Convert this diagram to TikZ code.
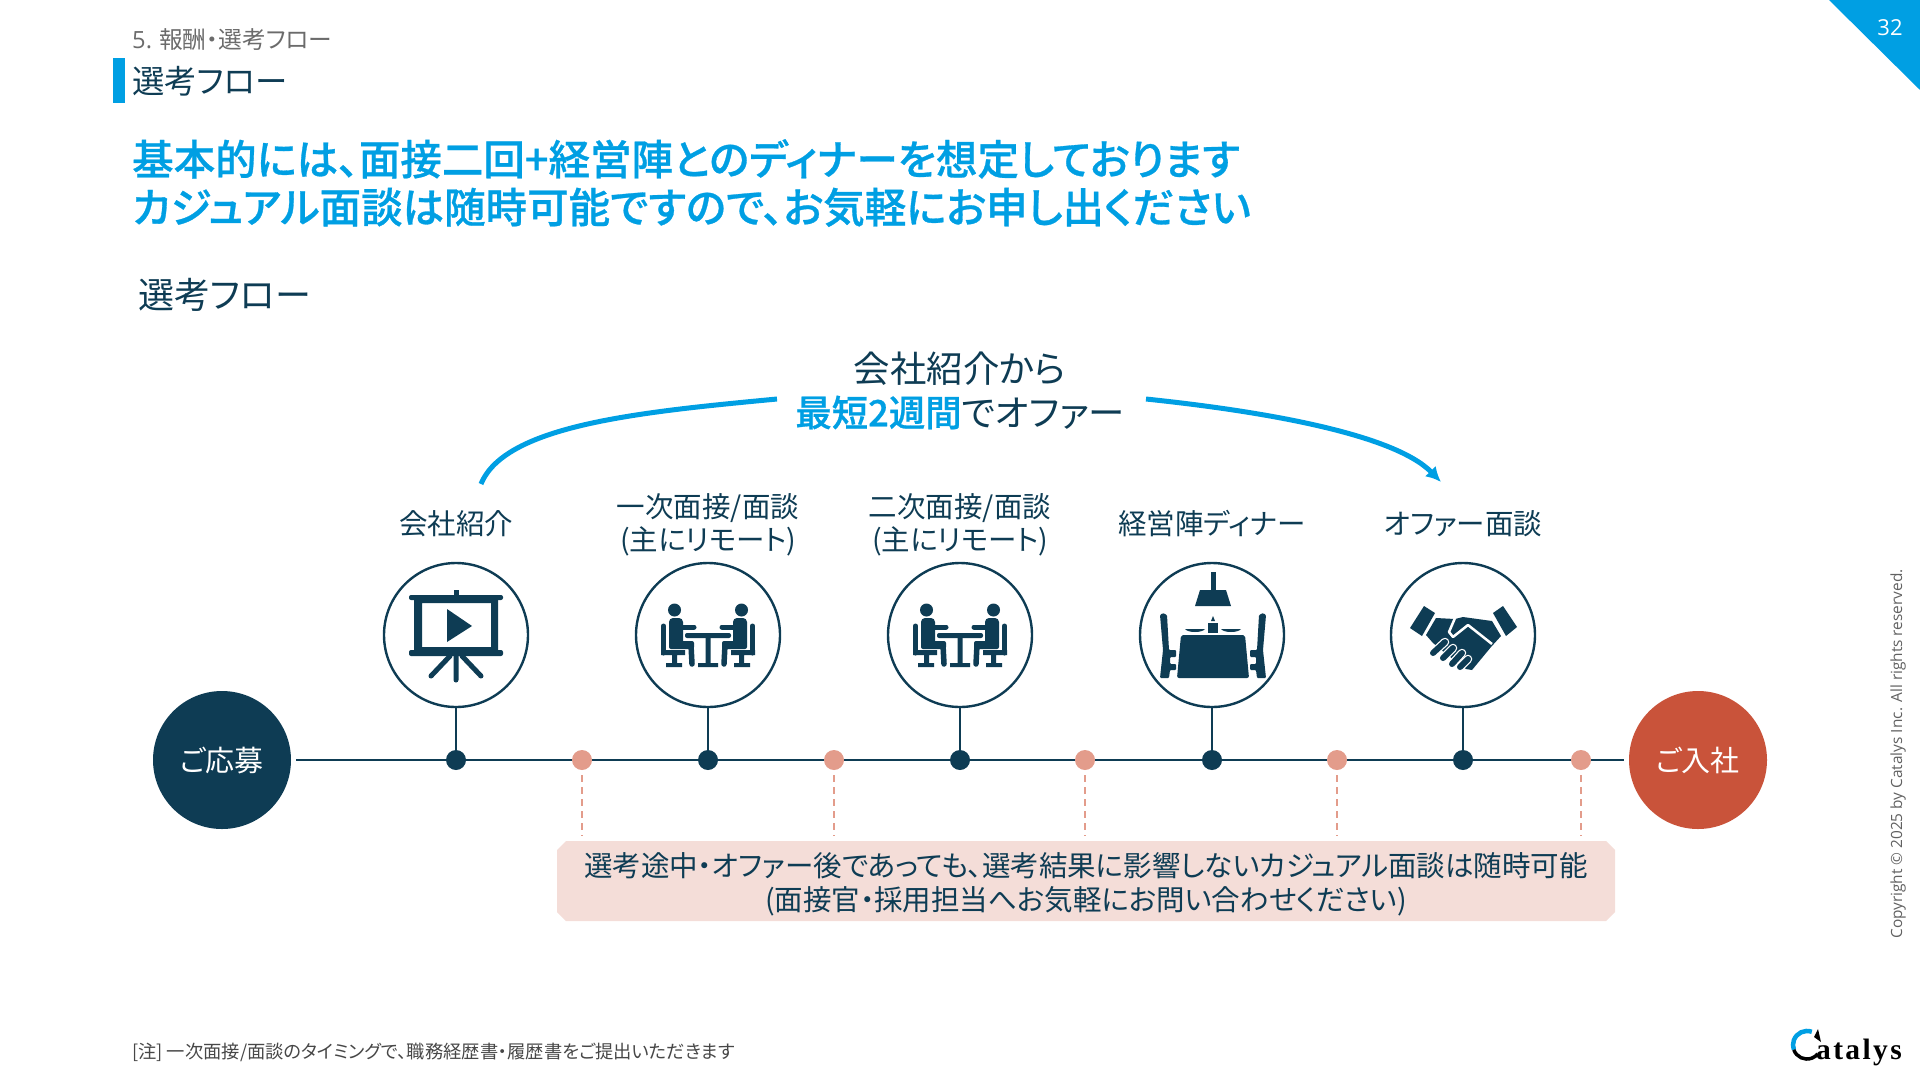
\documentclass[tikz,border=0pt]{standalone}
\usepackage{fontspec}
\setmainfont{Noto Sans CJK JP}[RawFeature=+palt]
\newfontfamily\headfont{Noto Sans CJK JP Medium}[RawFeature=+palt, FakeBold=0.7]
\newfontfamily\latinfont{Open Sans}
\newfontfamily\logofont{Liberation Serif}[LetterSpace=8]
\usetikzlibrary{arrows.meta, positioning, shapes.misc, calc}
\definecolor{navy}{HTML}{0E3C54}
\definecolor{skyblue}{HTML}{009FE3}
\definecolor{brick}{HTML}{C9533A}
\definecolor{salmon}{HTML}{E39C8B}
\definecolor{blush}{HTML}{F4DDD8}
\newcommand{\fs}[2]{\fontsize{#1}{#2}\selectfont}
\tikzset{
    stage/.style={draw=navy, line width=2.4pt, fill=white, circle, minimum size=144pt, inner sep=0pt},
    terminal/.style={circle, minimum size=138pt, inner sep=0pt, outer sep=5pt, text=white, font=\fs{29}{32}},
    navydot/.style={circle, fill=navy, minimum size=20pt, inner sep=0pt},
    salmondot/.style={circle, fill=salmon, minimum size=20pt, inner sep=0pt, outer sep=5pt},
    label/.style={text=navy, align=center, font=\fs{28.5}{33}},
    flowline/.style={navy, line width=2.8pt},
    casualdash/.style={salmon, line width=2.4pt, dash pattern=on 7pt off 5pt},
    bluecurve/.style={skyblue, line width=5pt},
    screenicon/.pic={
        \fill[navy, rounded corners=2pt] (-47,-40) rectangle (47,-35);
        \fill[navy] (-2.5,-45) rectangle (2.5,-38);
        \fill[navy, even odd rule] (-42,-38) rectangle (42,15) (-34,-32) rectangle (35,12);
        \fill[navy, rounded corners=2pt] (-47,15) rectangle (47,21);
        \draw[navy, line width=5pt, line cap=round] (0,21) -- (0,45) (-6,21) -- (-25,41) (6,21) -- (25,41);
        \fill[navy] (-9,-26) -- (-9,7) -- (16,-9) -- cycle;
    },
    sitter/.pic={
        \fill[navy] (-33.5,-25) circle (6.5);
        \fill[navy, rounded corners=4pt] (-39,-17) rectangle (-25,12);
        \draw[navy, line width=5pt, line cap=round] (-30,-8) -- (-14,-8);
        \fill[navy, rounded corners=2pt] (-39,6) rectangle (-14,14);
        \draw[navy, line width=5.5pt, line cap=round] (-17,10) -- (-16,29);
        \draw[navy, line width=5pt, line cap=round] (-44.5,-9) -- (-44.5,18);
        \fill[navy] (-47,15) rectangle (-23,20) (-36,20) rectangle (-31,29) (-42,28) rectangle (-26,32);
    },
    meetingicon/.pic={
        \pic {sitter};
        \pic[xscale=-1] {sitter};
        \fill[navy, rounded corners=2pt] (-23,-2) rectangle (23,3);
        \fill[navy] (-2.5,3) rectangle (2.5,28) (-10,28) rectangle (10,32);
    },
    dinnerchair/.pic={
        \fill[navy, rounded corners=1pt] (-53,-20) -- (-50,-22) -- (-46,-20) -- (-44,15) -- (-37,15) -- (-37,22) -- (-43,22) -- (-43,29) -- (-37,29) -- (-37,35) -- (-43,35) -- (-44,43) -- (-53,43) -- (-50,15) -- cycle;
    },
    dinnericon/.pic={
        \fill[navy] (-2.5,-63) rectangle (2.5,-45);
        \fill[navy] (-13,-45) -- (13,-45) -- (18,-29) -- (-18,-29) -- cycle;
        \fill[navy, rounded corners=2pt] (-32,0) -- (32,0) -- (36,43) -- (-36,43) -- cycle;
        \fill[navy] (-5,-12) rectangle (5,-2.5);
        \fill[navy] (0,-19) -- (2,-14) -- (-2,-14) -- cycle;
        \fill[navy] (-28,-6) -- (-8,-6) .. controls (-11,-2) and (-25,-2) .. cycle;
        \fill[navy] (28,-6) -- (8,-6) .. controls (11,-2) and (25,-2) .. cycle;
        \pic {dinnerchair};
        \pic[xscale=-1] {dinnerchair};
    },
    handsicon/.pic={
        \fill[navy] (-39,-29) -- (-28,-22) -- (-41,1) -- (-53,-7) -- cycle;
        \fill[navy] (40,-29) -- (30,-22) -- (43,1) -- (54,-8) -- cycle;
        \fill[navy] (-27,-17) -- (-8,-16) -- (0,-18) -- (29,-14) -- (38,1) -- (28,12) -- (9,35) -- (3,34) -- (-18,18) -- (-30,8) -- (-37,0) -- cycle;
        \draw[white, line width=2.5pt, line join=round] (-8,-17) -- (-14,-3) -- (-10,2) -- (5,-10) -- (29,9);
        \foreach \ax/\ay/\bx/\by in {-30/18/-18/7, -20/23/-10/13, -11/29/-1/18, -3/32/5/24} {
            \draw[white, line width=8.5pt, line cap=round] (\ax,\ay) -- (\bx,\by);
            \draw[navy, line width=6pt, line cap=round] (\ax,\ay) -- (\bx,\by);
        }
    }
}
\begin{document}
\begin{tikzpicture}[x=1pt, y=-1pt, >=Latex]
    \useasboundingbox (0,0) rectangle (1920,1080);
    % page furniture
    \fill[skyblue] (1829,0) -- (1920,0) -- (1920,90) -- cycle;
    \node[text=white, font=\latinfont\fs{22}{26}] (pageno) at (1890,28) {32};
    \fill[skyblue] (113,58) rectangle (125,103);
    \node[anchor=west, text=black!58, font=\fs{23.7}{28}, inner sep=0pt] (chapter) at (132,40) {{\latinfont 5.} 報酬・選考フロー};
    \node[anchor=west, text=navy, font=\fs{32.4}{36}, inner sep=0pt] (section) at (132,81) {選考フロー};
    \node[anchor=north west, align=left, text=skyblue, font=\headfont\fs{41.5}{48}, inner sep=0pt] (headline) at (132,139) {基本的には、面接二回+経営陣とのディナーを想定しております\\カジュアル面談は随時可能ですので、お気軽にお申し出ください};
    \node[anchor=west, text=navy, font=\fs{36}{40}, inner sep=0pt] (subhead) at (138,295) {選考フロー};
    % timeline
    \node[terminal, fill=navy] (apply) at (222,760) {ご応募};
    \node[terminal, fill=brick] (join) at (1698,760) {ご入社};
    \draw[flowline] (apply) -- (join);
    \node[stage] (c1) at (456,635) {};
    \node[stage] (c2) at (708,635) {};
    \node[stage] (c3) at (960,635) {};
    \node[stage] (c4) at (1212,635) {};
    \node[stage] (c5) at (1463,635) {};
    \foreach \i/\x in {1/456, 2/708, 3/960, 4/1212, 5/1463} {
        \node[navydot] (d\i) at (\x,760) {};
        \draw[flowline] (c\i) -- (d\i);
    }
    \pic at (456,635) {screenicon};
    \pic at (708,635) {meetingicon};
    \pic at (960,635) {meetingicon};
    \pic at (1213,635) {dinnericon};
    \pic at (1463,635) {handsicon};
    \node[label] (l1) at (456,524) {会社紹介};
    \node[label] (l2) at (708,525) {一次面接/面談\\(主にリモート)};
    \node[label] (l3) at (960,525) {二次面接/面談\\(主にリモート)};
    \node[label] (l4) at (1212,524) {経営陣ディナー};
    \node[label] (l5) at (1463,524) {オファー面談};
    % casual talks
    \node[chamfered rectangle, chamfered rectangle angle=45, chamfered rectangle xsep=9pt, chamfered rectangle ysep=0pt, fill=blush, minimum width=1058pt, minimum height=80pt, inner sep=0pt, outer sep=5pt, align=center, text=navy, font=\fs{28.5}{34}] (note) at (1086,881) {\rule{0pt}{30pt}選考途中・オファー後であっても、選考結果に影響しないカジュアル面談は随時可能\\(面接官・採用担当へお気軽にお問い合わせください)};
    \foreach \i/\x in {1/582, 2/834, 3/1085, 4/1337, 5/1581} {
        \node[salmondot] (s\i) at (\x,760) {};
        \draw[casualdash] (s\i) -- (s\i |- note.north);
    }
    % offer span
    \node[align=center, text=navy, font=\fs{36.4}{44}] (span) at (960,390.5) {会社紹介から\\{\headfont\color{skyblue}最短2週間}でオファー};
    \coordinate (spanfrom) at (481,484);
    \coordinate (spanleft) at (777,399);
    \coordinate (spanright) at (1146,399);
    \coordinate (spanto) at (1441,482);
    \draw[bluecurve] (spanfrom) .. controls (505,425) and (640,412) .. (spanleft);
    \draw[bluecurve, -{Latex[length=15pt,width=15pt]}] (spanright) .. controls (1270,412) and (1395,435) .. (spanto);
    % footer
    \node[anchor=west, text=black!72, font=\fs{18.3}{23}, inner sep=0pt] (footnote) at (132,1052) {[注] 一次面接/面談のタイミングで、職務経歴書・履歴書をご提出いただきます};
    \node[rotate=90, text=black!62, font=\latinfont\fs{15.4}{18}, inner sep=0pt] (copyright) at (1898,754) {Copyright © 2025 by Catalys Inc. All rights reserved.};
    \draw[skyblue, line width=4.5pt] (1811.8,1031.8) arc[start angle=70, end angle=200, radius=14pt];
    \draw[black, line width=3.5pt] (1793.8,1049.8) arc[start angle=200, end angle=320, radius=14pt];
    \fill[black] (1818,1029) -- (1821,1042) -- (1814,1037) -- cycle;
    \node[anchor=base west, inner sep=0pt, text=black, font=\logofont\bfseries\fs{29.5}{30}] (logo) at (1816,1059) {atalys};
\end{tikzpicture}
\end{document}
